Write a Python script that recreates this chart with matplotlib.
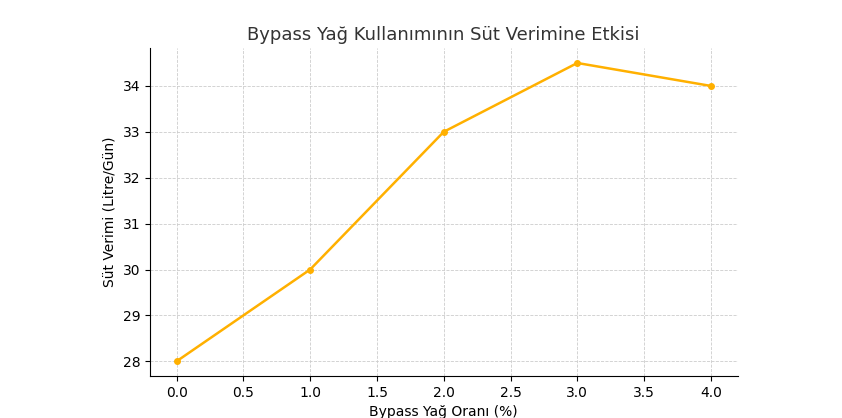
import matplotlib
matplotlib.use("Agg")
import matplotlib.pyplot as plt

oran = [0, 1, 2, 3, 4]
verim = [28, 30, 33, 34.5, 34]

fig, ax = plt.subplots(figsize=(8.42, 4.18), dpi=100)
fig.subplots_adjust(left=0.178, right=0.876, top=0.885, bottom=0.1)
ax.plot(oran, verim, marker='o', color='#FFB000', linewidth=1.8, markersize=4)
ax.set_title('Bypass Yağ Kullanımının Süt Verimine Etkisi', fontsize=13, color='#333333')
ax.set_xlabel('Bypass Yağ Oranı (%)', fontsize=10)
ax.set_ylabel('Süt Verimi (Litre/Gün)', fontsize=10)
ax.set_xticks([0, 0.5, 1, 1.5, 2, 2.5, 3, 3.5, 4])
ax.set_yticks([28, 29, 30, 31, 32, 33, 34])
ax.grid(True, linestyle='--', linewidth=0.6, color='#cccccc')
ax.spines['top'].set_visible(False)
ax.spines['right'].set_visible(False)
fig.savefig('out.png')
